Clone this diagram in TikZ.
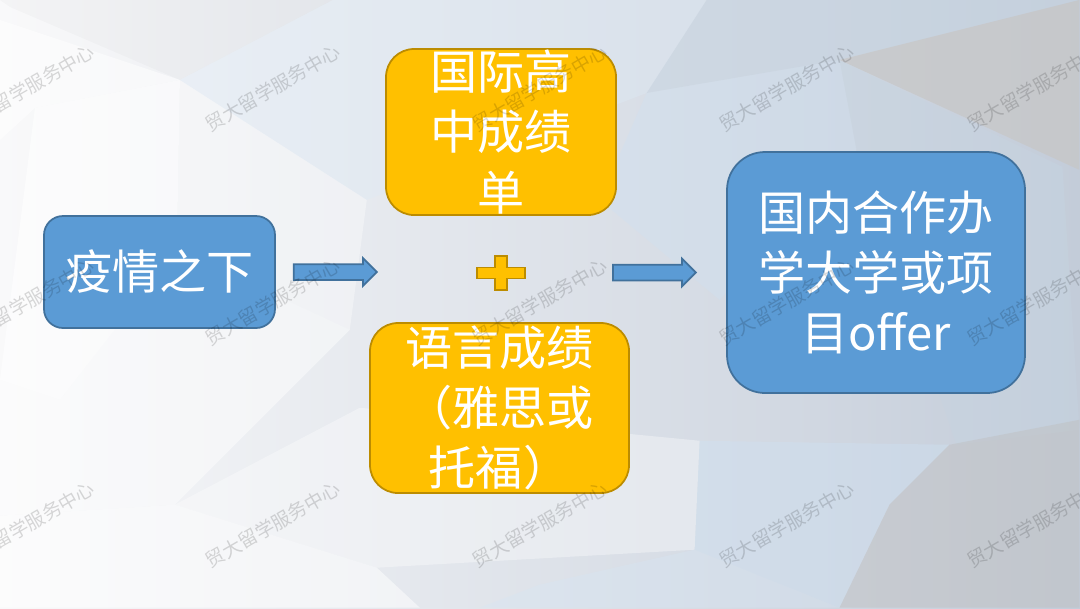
\documentclass[tikz,border=0pt]{standalone}
\usepackage{fontspec}
\newfontfamily\cjk{Noto Sans CJK SC}
\usepackage{xcolor}
\usepackage{tikz}
\usetikzlibrary{positioning, shapes.arrows}

\definecolor{boxblue}{HTML}{5B9BD5}
\definecolor{boxblueline}{HTML}{41719C}
\definecolor{boxorange}{HTML}{FFC000}
\definecolor{boxorangeline}{HTML}{BC8C00}
\definecolor{bgleft}{HTML}{F9F9FA}
\definecolor{bgmid}{HTML}{DEE7F2}
\definecolor{bgright}{HTML}{C3CCD9}

\tikzset{
  bluebox/.style={rectangle, draw=boxblueline, fill=boxblue, line width=0.5pt, inner sep=0pt},
  orangebox/.style={rectangle, draw=boxorangeline, fill=boxorange, line width=0.5pt, inner sep=0pt},
  boxtext/.style={text=white, align=center, inner sep=0pt, font=\cjk\fontsize{13.4pt}{17.1pt}\selectfont},
  blockarrow/.style={single arrow, draw=boxblueline, fill=boxblue, line width=0.5pt,
    minimum height=0.83cm, inner sep=0.07cm, single arrow head extend=0.06cm},
  plusmark/.style={draw=boxorangeline, fill=boxorange, line width=0.5pt},
  facet/.style={draw=none},
  watermark/.style={rotate=30, text=black, text opacity=0.15, inner sep=0pt,
    font=\cjk\fontsize{5.4pt}{6pt}\selectfont}
}

\begin{document}
\begin{tikzpicture}
	\clip (0,0) rectangle (10.8,6.08);
	
	% Fondo
	\shade[left color=bgleft, middle color=bgmid, right color=bgright] (0,0) rectangle (10.8,6.08);
	\begin{scope}[yshift=6.08cm, x=0.01cm, y=-0.01cm]
		\fill[facet, black, opacity=0.02] (0,0) -- (333,0) -- (180,80) -- (10,7) -- cycle;
		\fill[facet, white, opacity=0.5] (0,20) -- (180,80) -- (35,108) -- (0,140) -- cycle;
		\fill[facet, white, opacity=0.6] (35,108) -- (180,80) -- (177,250) -- (60,400) -- (0,380) -- cycle;
		\fill[facet, white, opacity=0.35] (180,80) -- (367,200) -- (350,330) -- (177,250) -- cycle;
		\fill[facet, white, opacity=0.45] (0,380) -- (60,400) -- (177,250) -- (350,330) -- (175,505) -- (0,516) -- cycle;
		\fill[facet, boxblue!20, opacity=0.35] (333,0) -- (707,0) -- (647,93) -- (367,200) -- (180,80) -- cycle;
		\fill[facet, boxblue!30, opacity=0.35] (647,93) -- (840,60) -- (857,150) -- (720,300) -- (600,200) -- cycle;
		\fill[facet, boxblueline!30, opacity=0.5] (707,0) -- (1080,0) -- (840,60) -- (647,93) -- cycle;
		\fill[facet, black!22, opacity=0.75] (840,60) -- (1080,0) -- (1080,170) -- cycle;
		\fill[facet, boxblueline!30, opacity=0.45] (840,60) -- (1063,167) -- (1080,430) -- (957,445) -- (857,150) -- cycle;
		\fill[facet, boxblue!30, opacity=0.4] (700,441) -- (950,445) -- (890,505) -- (840,608) -- (695,550) -- cycle;
		\fill[facet, black!25, opacity=0.45] (950,445) -- (1080,420) -- (1080,608) -- (840,608) -- (890,505) -- cycle;
		\fill[facet, white, opacity=0.5] (0,516) -- (175,505) -- (377,568) -- (420,608) -- (0,608) -- cycle;
		\fill[facet, white, opacity=0.35] (360,408) -- (700,441) -- (695,550) -- (377,568) -- (175,505) -- cycle;
		\fill[facet, boxblue!25, opacity=0.35] (540,585) -- (695,550) -- (840,608) -- (480,608) -- cycle;
	\end{scope}
	
	% Cajas
	\node[bluebox, rounded corners=0.19cm, minimum width=2.31cm, minimum height=1.12cm,
		label={[boxtext]center:疫情之下}] (pandemic) at (1.595,3.36) {};
	\node[orangebox, rounded corners=0.28cm, minimum width=2.30cm, minimum height=1.66cm,
		label={[boxtext]center:{国际高\\中成绩\\单}}] (grades) at (5.01,4.76) {};
	\node[orangebox, rounded corners=0.28cm, minimum width=2.59cm, minimum height=1.70cm,
		label={[boxtext]center:{语言成绩\\（雅思或\\托福）}}] (language) at (4.995,2.00) {};
	\node[bluebox, rounded corners=0.38cm, minimum width=2.98cm, minimum height=2.41cm,
		label={[boxtext]center:{国内合作办\\学大学或项\\目offer}}] (offer) at (8.76,3.355) {};
	
	% Flechas
	\node[blockarrow, right=0.17cm of pandemic] (arrowin) {};
	\node[blockarrow, left=0.29cm of offer] (arrowout) {};
	
	% Signo mas
	\coordinate (plus) at (5.01,3.35);
	\draw[plusmark, shift={(plus)}] (-0.24,0.055) -- (-0.06,0.055) -- (-0.06,0.17) -- (0.06,0.17)
		-- (0.06,0.055) -- (0.24,0.055) -- (0.24,-0.055) -- (0.06,-0.055) -- (0.06,-0.17)
		-- (-0.06,-0.17) -- (-0.06,-0.055) -- (-0.24,-0.055) -- cycle;
	
	% Marca de agua
	\begin{scope}[yshift=6.08cm, x=0.01cm, y=-0.01cm]
		\foreach \wx in {27,273,540,787,1035}
			\foreach \wy in {88,302,525}
				\node[watermark] at (\wx,\wy) {贸大留学服务中心};
	\end{scope}
\end{tikzpicture}
\end{document}
